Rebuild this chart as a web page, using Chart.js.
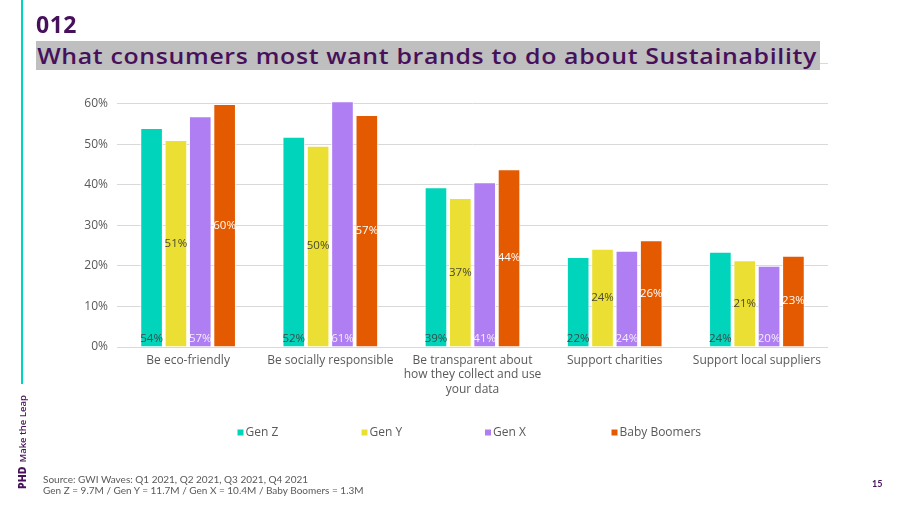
<!DOCTYPE html>
<html>
<head>
<meta charset="utf-8">
<script src="https://cdn.jsdelivr.net/npm/chart.js@4.4.1/dist/chart.umd.min.js"></script>
<style>
  html, body { margin:0; padding:0; background:#fff; }
  body { width:900px; height:507px; position:relative; overflow:hidden; font-family:"Open Sans", sans-serif; }
  #wrap { position:absolute; left:0; top:0; width:900px; height:507px; }
  #num { position:absolute; left:36px; top:8px; font-family:"Open Sans", sans-serif; font-weight:700; font-size:23px; color:#46115A; letter-spacing:0.5px; z-index:2; }
  #title { position:absolute; left:36px; top:41px; width:784px; height:29px; line-height:29px; background:#BFBFBF; z-index:2; overflow:hidden; }
  #tt { display:inline-block; font-family:"Open Sans", sans-serif; font-weight:600; font-size:22px; color:#46115A; white-space:nowrap; transform-origin:0 50%; padding-left:1px; }
  #bar { position:absolute; left:21px; top:0; width:2px; height:384px; background:#00D4BA; z-index:2; }
  #logo { position:absolute; left:22px; top:489px; transform-origin:0 0; transform:rotate(-90deg) translateY(-50%); white-space:nowrap; font-family:"Open Sans", sans-serif; font-weight:600; font-size:9.5px; color:#46115A; z-index:2; }
  #logo b { font-weight:800; font-size:10.5px; margin-right:4px; }
  #src { position:absolute; left:43px; top:474px; font-family:"Lato", sans-serif; font-size:10px; line-height:11px; color:#595959; z-index:2; }
  #page { position:absolute; left:872px; top:478px; font-family:"Lato", sans-serif; font-weight:700; font-size:9px; color:#46115A; z-index:2; }
</style>
</head>
<body>
<div id="wrap"><canvas id="c" width="900" height="507"></canvas></div>
<div id="bar"></div>
<div id="num">012</div>
<div id="title"><span id="tt">What consumers most want brands to do about Sustainability</span></div>
<div id="logo"><b>PHD</b>Make the Leap</div>
<div id="src">Source: GWI Waves: Q1 2021, Q2 2021, Q3 2021, Q4 2021<br>Gen Z = 9.7M / Gen Y = 11.7M / Gen X = 10.4M / Baby Boomers = 1.3M</div>
<div id="page">15</div>
<script>
const categories = [
  "Be eco-friendly",
  "Be socially responsible",
  ["Be transparent about", "how they collect and use", "your data"],
  "Support charities",
  "Support local suppliers"
];
const seriesNames = ["Gen Z", "Gen Y", "Gen X", "Baby Boomers"];
const genZ = [54.0, 51.8, 39.4, 22.2, 23.5];
const genY = [51.0, 49.6, 36.7, 24.2, 21.4];
const genX = [56.9, 60.6, 40.6, 23.7, 20.0];
const boomers = [59.9, 57.2, 43.8, 26.3, 22.5];
const yTicks = [0, 10, 20, 30, 40, 50, 60, 70];

const colors = ["#00D4BA", "#EADF32", "#AF7EF3", "#E45A00"];
const labelColors = ["#3A4A47", "#4A4A33", "#F4ECFF", "#FFFFFF"];
const labelPos = ["bottom", "middle", "bottom", "middle"];

// fit title width (wide geometric look)
(function(){
  const tt = document.getElementById('tt');
  const target = 781;
  tt.style.letterSpacing = '0.6px';
  const w = tt.getBoundingClientRect().width;
  tt.style.transform = 'scaleX(' + (target / w).toFixed(4) + ')';
})();

const valueLabels = {
  id: 'valueLabels',
  afterDatasetsDraw(chart) {
    const ctx = chart.ctx;
    ctx.save();
    ctx.font = '11.5px "Open Sans", sans-serif';
    ctx.textAlign = 'center';
    ctx.textBaseline = 'middle';
    chart.data.datasets.forEach((ds, i) => {
      const meta = chart.getDatasetMeta(i);
      meta.data.forEach((el, j) => {
        const v = ds.data[j];
        const y = labelPos[i] === 'bottom' ? el.base - 8 : (el.y + el.base) / 2;
        ctx.fillStyle = labelColors[i];
        ctx.fillText(Math.round(v) + '%', el.x, y);
      });
    });
    ctx.restore();
  }
};

const fixedLegend = {
  id: 'fixedLegend',
  afterDraw(chart) {
    const ctx = chart.ctx;
    const xs = [237.5, 361.5, 485, 611.5];
    const y = 432.5;
    ctx.save();
    ctx.font = '12px "Open Sans", sans-serif';
    ctx.textBaseline = 'middle';
    ctx.textAlign = 'left';
    chart.data.datasets.forEach((ds, i) => {
      ctx.fillStyle = ds.backgroundColor;
      ctx.fillRect(xs[i], y - 3, 6, 6);
      ctx.fillStyle = '#595959';
      ctx.fillText(ds.label, xs[i] + 8, y);
    });
    ctx.restore();
  }
};

const seriesData = [genZ, genY, genX, boomers];
new Chart(document.getElementById('c'), {
  type: 'bar',
  data: {
    labels: categories,
    datasets: seriesNames.map((n, i) => ({
      label: n,
      data: seriesData[i],
      backgroundColor: colors[i],
      borderColor: 'rgba(255,255,255,0.85)',
      borderWidth: 1,
      categoryPercentage: 0.685,
      barPercentage: 0.93
    }))
  },
  options: {
    responsive: false,
    animation: false,
    devicePixelRatio: 1,
    layout: { padding: { left: 70, right: 72, top: 63, bottom: 0 } },
    plugins: { legend: { display: false }, tooltip: { enabled: false } },
    scales: {
      x: {
        grid: { display: false, drawTicks: false },
        border: { display: false },
        ticks: {
          color: '#595959',
          font: { family: '"Open Sans", sans-serif', size: 12, lineHeight: 1.17 },
          padding: 7,
          maxRotation: 0,
          autoSkip: false
        },
        afterFit(s) { s.height = 160; }
      },
      y: {
        min: 0,
        max: 70,
        grid: { color: '#D9D9D9', lineWidth: 1, drawTicks: false },
        border: { display: false },
        afterBuildTicks(s) { s.ticks = yTicks.map(v => ({ value: v })); },
        ticks: {
          color: '#595959',
          font: { family: '"Open Sans", sans-serif', size: 12 },
          padding: 9,
          callback: v => v + '%'
        },
        afterFit(s) { s.width = 47; }
      }
    }
  },
  plugins: [valueLabels, fixedLegend]
});
</script>
</body>
</html>
